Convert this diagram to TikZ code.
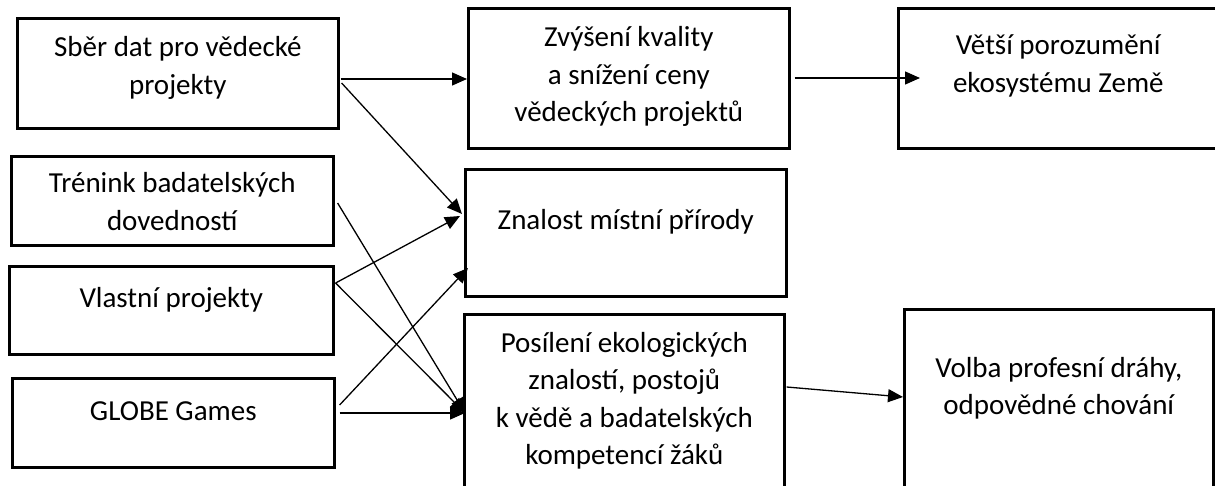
\documentclass[tikz,border=0pt]{standalone}
\usepackage{fontspec}
\setmainfont{Carlito}
\usetikzlibrary{arrows.meta,calc}
\newcommand{\mltext}[1]{\begin{tabular}[t]{@{}c@{}}#1\end{tabular}}
\begin{document}
\begin{tikzpicture}[x=1pt,y=-1pt,
  box/.style={draw, line width=2.6pt, rectangle, anchor=north west, inner sep=0pt},
  txt/.style={anchor=base, inner sep=0pt, font=\fontsize{29}{37.5}\selectfont},
  conn/.style={line width=1.3pt, -{Triangle[length=15pt,width=13pt]}}]
\useasboundingbox (0,0) rectangle (1215,486);
\clip (0,0) rectangle (1215,486);
\fill[white] (0,0) rectangle (1215,486);
% boxes
\node[box, minimum width=321pt, minimum height=110pt] (A) at (16,17) {};
\node[box, minimum width=322pt, minimum height=89pt]  (B) at (10,155) {};
\node[box, minimum width=324pt, minimum height=88pt]  (C) at (8,265) {};
\node[box, minimum width=322pt, minimum height=89pt]  (D) at (11,377) {};
\node[box, minimum width=321pt, minimum height=140pt] (E) at (467,7) {};
\node[box, minimum width=321pt, minimum height=127pt] (F) at (464,168) {};
\node[box, minimum width=320pt, minimum height=200pt] (G) at (463,313) {};
\node[box, minimum width=320pt, minimum height=140pt] (H) at (897,7) {};
\node[box, minimum width=309pt, minimum height=200pt] (I) at (903,308) {};
% texts
\node[txt] (tA) at ($(A.north)+(0,40)$) {\mltext{Sběr dat pro vědecké\\projekty}};
\node[txt] (tB) at ($(B.north)+(0,38)$) {\mltext{Trénink badatelských\\dovedností}};
\node[txt] (tC) at ($(C.north)+(0,42)$) {\mltext{Vlastní projekty}};
\node[txt] (tD) at ($(D.north)+(0,43)$) {\mltext{GLOBE Games}};
\node[txt] (tE) at ($(E.north)+(0,40)$) {\mltext{Zvýšení kvality\\a snížení ceny\\vědeckých projektů}};
\node[txt] (tF) at ($(F.north)+(0,62)$) {\mltext{Znalost místní přírody}};
\node[txt] (tG) at ($(G.north)+(0,39)$) {\mltext{Posílení ekologických\\znalostí, postojů\\k vědě a badatelských\\kompetencí žáků}};
\node[txt] (tH) at ($(H.north)+(0,48)$) {\mltext{Větší porozumění\\ekosystému Země}};
\node[txt] (tI) at ($(I.north)+(0,69)$) {\mltext{Volba profesní dráhy,\\odpovědné chování}};
% connectors
\coordinate (Gin) at ($(G.north west)+(2,100)$);
\draw[conn] ($(A.north east)+(1,62)$) -- ($(E.north west)+(0,72)$);
\draw[conn] ($(E.north east)+(4,71)$) -- ($(H.north west)+(23,71)$);
\draw[conn] ($(A.north east)+(2,66)$) -- ($(F.north west)+(-2,46)$);
\draw[conn] ($(B.north east)+(3,48)$) -- (Gin);
\draw[conn] ($(C.north east)+(1,18)$) -- ($(F.north west)+(-4,48)$);
\draw[conn] ($(C.north east)+(1,18)$) -- (Gin);
\draw[conn] ($(D.north east)+(4,28)$) -- ($(F.north west)+(4,100)$);
\draw[conn] ($(D.north east)+(4,36)$) -- (Gin);
\draw[conn] ($(G.north east)+(1,74)$) -- ($(I.north west)+(0,89)$);
\end{tikzpicture}
\end{document}
